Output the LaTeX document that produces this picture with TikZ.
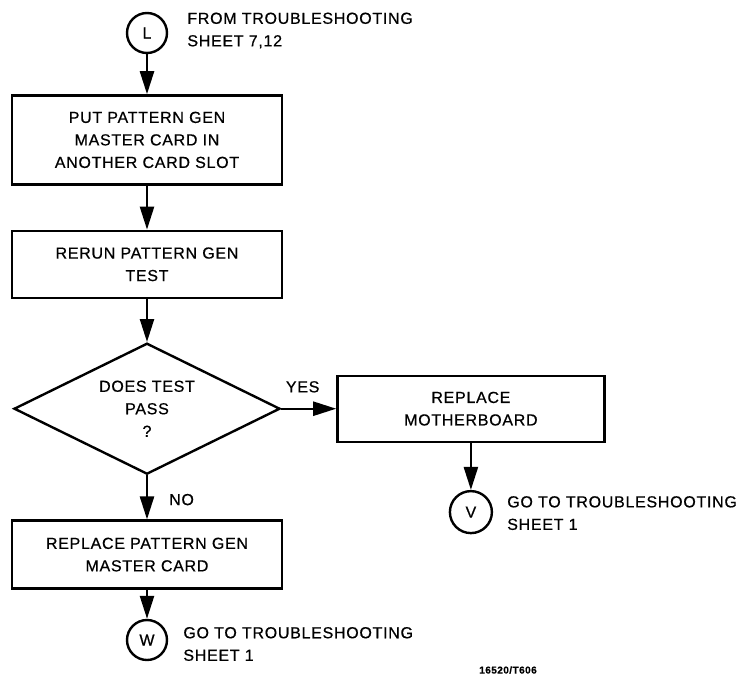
\documentclass[tikz,border=0pt]{standalone}
\usepackage{fontspec}
\setmainfont{Liberation Sans}[LetterSpace=4.5,FakeBold=0.6]
\usetikzlibrary{arrows.meta,positioning,shapes.geometric}
\begin{document}
\begin{tikzpicture}[font=\fontsize{16}{22.5}\selectfont,
  >={Triangle[length=23pt,width=14pt]},line width=2.4pt,
  box/.style={draw,align=center,inner sep=3pt,minimum width=270pt},
  conn/.style={draw,circle,minimum size=40pt,inner sep=0pt},
  dec/.style={draw,diamond,aspect=2,inner sep=0pt,align=center,
    minimum width=266pt,minimum height=131pt},
  note/.style={align=left,inner sep=0pt},
  lbl/.style={inner sep=0pt}]
\useasboundingbox (0,0) rectangle (746pt,-683pt);
\node[conn] (L) at (147pt,-33pt) {L};
\node[note,right=18pt of L,yshift=2.5pt] (fromL)
  {FROM TROUBLESHOOTING\\SHEET 7,12};
\node[box,minimum height=89pt,below=40pt of L] (put)
  {PUT PATTERN GEN\\MASTER CARD IN\\ANOTHER CARD SLOT};
\node[box,minimum height=67pt,below=44pt of put] (rerun)
  {RERUN PATTERN GEN\\TEST};
\node[dec,below=43pt of rerun] (pass) {DOES TEST\\PASS\\?};
\node[box,minimum width=267pt,minimum height=66pt,right=55pt of pass] (mobo)
  {REPLACE\\MOTHERBOARD};
\node[conn,minimum size=42pt,below=47pt of mobo] (V) {V};
\node[note,right=13pt of V,yshift=-1pt] (toV)
  {GO TO TROUBLESHOOTING\\SHEET 1};
\node[box,minimum height=68pt,below=44pt of pass] (repl)
  {REPLACE PATTERN GEN\\MASTER CARD};
\node[conn,below=29pt of repl] (W) {W};
\node[note,right=14pt of W,yshift=-4pt] (toW)
  {GO TO TROUBLESHOOTING\\SHEET 1};
\node[font=\bfseries\fontsize{10}{12}\selectfont] (tag) at (508pt,-670pt)
  {16520/T606};
\draw[->] (L) -- (put);
\draw[->] (put) -- (rerun);
\draw[->] (rerun) -- (pass);
\draw[->] (pass) -- (mobo) node[lbl,pos=0.39,above=15pt]{YES};
\draw[->] (pass) -- (repl) node[lbl,pos=0.55,right=21pt]{NO};
\draw[->] (mobo) -- (V);
\draw[->] (repl) -- (W);
\end{tikzpicture}
\end{document}
